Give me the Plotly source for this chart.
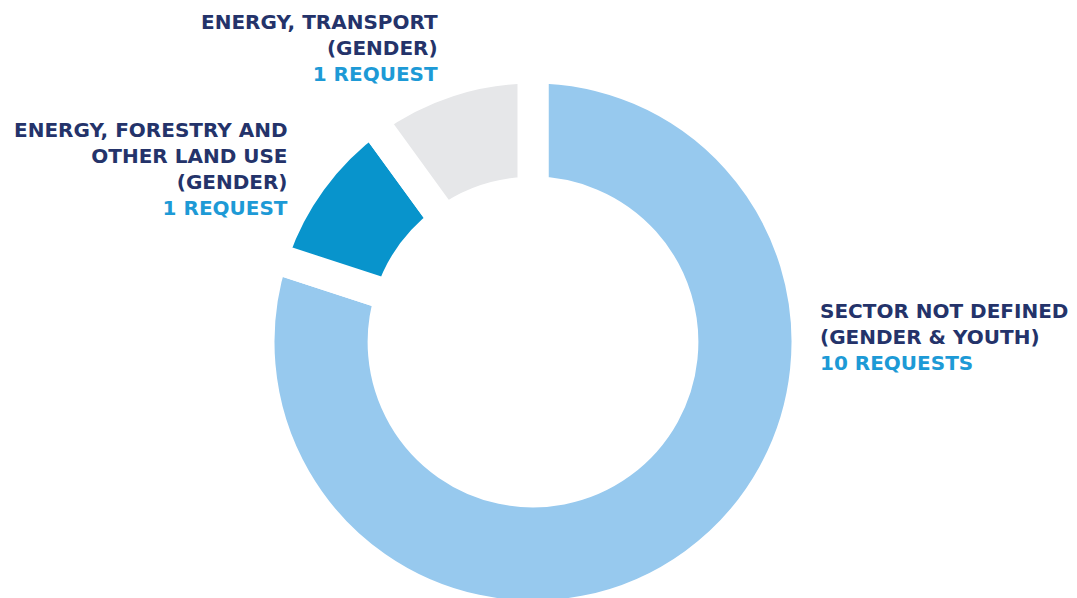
import plotly.graph_objects as go

# ---- data ----
sectors = [
    "SECTOR NOT DEFINED (GENDER & YOUTH)",
    "ENERGY, FORESTRY AND OTHER LAND USE (GENDER)",
    "ENERGY, TRANSPORT (GENDER)",
]
label_lines = [
    ["SECTOR NOT DEFINED", "(GENDER & YOUTH)"],
    ["ENERGY, FORESTRY AND", "OTHER LAND USE", "(GENDER)"],
    ["ENERGY, TRANSPORT", "(GENDER)"],
]
requests = [10, 1, 1]            # counts printed in the labels
slice_share = [80, 10, 10]       # ring share as drawn in the picture (%)
slice_colors = ["#97C9EE", "#0894CC", "#E6E7E9"]

NAVY = "#24336A"
BLUE = "#1D9AD6"

OFF = 8                    # page body margin
W, H = 1077, 610
cx, cy = 533 - OFF, 342 - OFF   # centre in figure px (from top-left)
R = 274                    # full pie radius in px (incl. half of stroke)

fig = go.Figure()
fig.add_trace(go.Pie(
    labels=sectors,
    values=slice_share,
    customdata=requests,
    sort=False,
    direction="clockwise",
    rotation=0,
    hole=0.547,
    marker=dict(colors=slice_colors, line=dict(color="white", width=31)),
    textinfo="none",
    hovertemplate="%{label}<br>%{customdata} request(s)<extra></extra>",
    showlegend=False,
    domain=dict(x=[(cx - R) / W, (cx + R) / W],
                y=[max(0, (H - cy - R) / H), min(1, (H - cy + R) / H)]),
))

def ann_text(lines, n):
    req = f"{n} REQUEST" + ("S" if n != 1 else "")
    return "<br>".join(lines) + f"<br><span style='color:{BLUE}'>{req}</span>"

# (x px, y-centre px, xanchor) in page coordinates
ann_pos = [(818, 337, "left"), (290, 169, "right"), (440, 48, "right")]

for lines, n, (ax, ay, anc) in zip(label_lines, requests, ann_pos):
    fig.add_annotation(
        text=ann_text(lines, n),
        x=(ax - OFF) / W, y=(H - (ay - OFF)) / H, xref="paper", yref="paper",
        xanchor=anc, yanchor="middle", align=anc,
        showarrow=False,
        font=dict(family="DejaVu Sans", size=20, color=NAVY, weight="bold"),
    )

fig.update_layout(
    width=W, height=H,
    margin=dict(l=0, r=0, t=0, b=0),
    paper_bgcolor="white",
    plot_bgcolor="white",
)

fig.write_html("out.html")
